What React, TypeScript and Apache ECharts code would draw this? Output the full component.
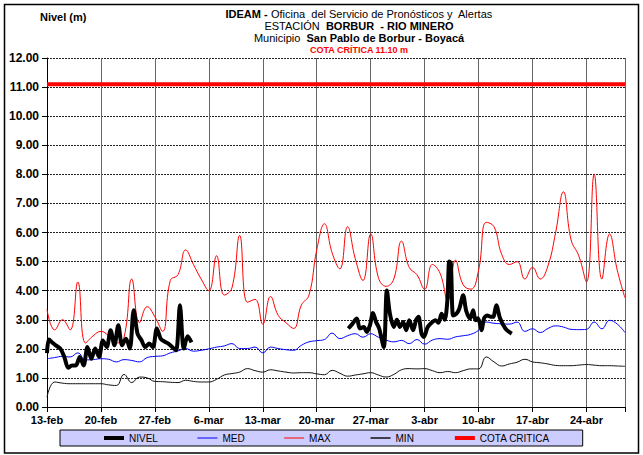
import React, { useEffect, useRef } from "react";
import * as echarts from "echarts";

const FONT = '"Liberation Sans", Arial, Helvetica, sans-serif';

// x axis: days since 13-feb (0 .. 75)
const LAST_DAY = 75;
const TICK_LABELS = ["13-feb", "20-feb", "27-feb", "6-mar", "13-mar", "20-mar", "27-mar", "3-abr", "10-abr", "17-abr", "24-abr"];
const COTA_CRITICA = 11.1;

// daily values, day 0 = 13-feb
const MAX_VALUES = [
  3.35, 2.65, 3.0, 2.65, 4.3, 2.2, 2.45, 2.6, 2.45, 2.2,
  2.4, 4.4, 2.9, 3.45, 3.1, 2.6, 4.35, 4.55, 5.4, 4.9,
  4.4, 4.0, 5.2, 3.85, 4.1, 5.9, 3.6, 3.7, 2.85, 3.8,
  3.15, 2.9, 2.7, 3.5, 3.85, 5.4, 6.3, 5.3, 4.75, 6.2,
  5.1, 4.35, 5.95, 4.45, 4.15, 4.4, 5.7, 4.8, 4.55, 4.05,
  4.9, 4.6, 3.65, 5.05, 4.2, 4.05, 4.7, 6.35, 6.2, 5.25,
  4.9, 5.0, 4.4, 4.8, 4.4, 4.85, 6.0, 7.4, 5.75, 5.2,
  4.3, 8.0, 4.4, 5.95, 4.7, 3.75,
];
const MED_VALUES = [
  1.66, 1.7, 1.74, 1.72, 1.86, 1.62, 1.63, 1.66, 1.64, 1.55,
  1.63, 1.6, 1.55, 1.7, 1.74, 1.76, 1.86, 1.93, 2.01, 1.92,
  1.95, 2.0, 2.06, 2.1, 2.18, 2.01, 2.01, 2.06, 1.86, 2.06,
  2.01, 1.97, 1.95, 2.12, 2.24, 2.28, 2.32, 2.54, 2.35, 2.45,
  2.52, 2.4, 2.52, 2.4, 2.3, 2.24, 2.29, 2.18, 2.32, 2.16,
  2.3, 2.35, 2.33, 2.41, 2.45, 2.5, 2.64, 2.92, 2.88, 2.86,
  2.85, 2.92, 2.6, 2.69, 2.56, 2.7, 2.79, 2.75, 2.67, 2.66,
  2.67, 2.92, 2.69, 2.98, 2.85, 2.56,
];
const MIN_VALUES = [
  0.34, 0.86, 0.82, 0.8, 0.8, 0.8, 0.8, 0.8, 0.76, 0.74,
  1.12, 0.84, 1.03, 1.0, 0.88, 0.87, 0.85, 0.84, 0.92, 0.88,
  0.86, 0.86, 0.95, 1.1, 1.15, 1.2, 1.32, 1.25, 1.2, 1.28,
  1.24, 1.2, 1.17, 1.18, 1.18, 1.14, 1.11, 1.26, 1.16, 1.06,
  1.1, 1.14, 1.18, 1.1, 1.03, 1.12, 1.28, 1.32, 1.31, 1.32,
  1.25, 1.18, 1.22, 1.18, 1.25, 1.31, 1.31, 1.72, 1.55, 1.41,
  1.48, 1.54, 1.64, 1.55, 1.52, 1.48, 1.43, 1.42, 1.42, 1.44,
  1.46, 1.44, 1.42, 1.42, 1.41, 1.4,
];

// NIVEL readings (two per day), two observed periods
const NIVEL_DAYS_1 = [
  0, 0.25, 0.75, 1.25, 1.75, 2.25, 2.75, 3.25, 3.75, 4.25, 4.75, 5.25, 5.75,
  6.25, 6.75, 7.25, 7.75, 8.25, 8.75, 9.25, 9.75, 10.25, 10.75, 11.25, 11.75,
  12.25, 12.75, 13.25, 13.75, 14.25, 14.75, 15.25, 15.75, 16.25, 16.75, 17.25,
  17.75, 18.25, 18.75,
];
const NIVEL_VALUES_1 = [
  1.85, 2.32, 2.2, 2.1, 2.0, 1.72, 1.35, 1.43, 1.43, 1.72, 1.43, 2.06, 1.66,
  2.01, 1.72, 2.29, 2.06, 2.64, 2.12, 2.81, 2.12, 2.35, 2.01, 3.33, 2.52,
  2.3, 2.06, 2.18, 2.06, 2.7, 2.35, 2.25, 2.18, 2.06, 1.95, 3.5,
  2.01, 2.43, 2.22,
];
const NIVEL_DAYS_2 = [
  39.1, 39.6, 40.2, 40.6, 41.1, 41.5, 41.9, 42.3, 42.7, 43.1, 43.7, 44.1, 44.5,
  45.0, 45.4, 45.8, 46.2, 46.6, 47.0, 47.5, 47.9, 48.2, 48.6, 48.9, 49.4, 49.9,
  50.4, 50.8, 51.2, 51.6, 51.95, 52.2, 52.4, 52.7, 53.1, 53.5, 54.0, 54.4, 54.9,
  55.3, 55.6, 55.9, 56.2, 56.4, 56.7, 57.1, 57.6, 57.9, 58.3, 58.8, 59.5, 60.3,
];
const NIVEL_VALUES_2 = [
  2.7, 2.85, 3.04, 2.7, 2.75, 2.58, 2.81, 3.23, 2.92, 2.7, 2.06, 4.01, 3.2,
  2.75, 3.0, 2.75, 2.92, 2.64, 2.98, 2.64, 3.0, 3.1, 2.52, 2.41, 2.75, 2.9,
  2.98, 2.9, 3.21, 3.0, 3.67, 5.0, 4.95, 3.15, 3.2, 3.38, 3.84, 3.3, 3.04,
  3.33, 2.98, 3.05, 2.85, 2.64, 3.04, 3.15, 3.1, 3.1, 3.5, 3.04, 2.69, 2.52,
];

const daily = (arr: number[]) => arr.map((v, i) => [i, v]);

function buildOption(): any {
  const nivelData: any[] = [
    ...NIVEL_DAYS_1.map((d, i) => [d, NIVEL_VALUES_1[i]]),
    [30, "-"],
    ...NIVEL_DAYS_2.map((d, i) => [d, NIVEL_VALUES_2[i]]),
  ];
  const lineSeries = (name: string, data: any[], color: string, width: number, smooth: number, z: number) => ({
    name,
    type: "line",
    data,
    symbol: "none",
    showSymbol: false,
    smooth,
    connectNulls: false,
    z,
    itemStyle: { color },
    lineStyle: { color, width },
    emphasis: { disabled: true },
  });
  const legendItem = (name: string, width: number) => ({
    name,
    lineStyle: { width },
    itemStyle: { opacity: 0, borderWidth: 0 },
  });
  return {
    animation: false,
    backgroundColor: "#ffffff",
    textStyle: { fontFamily: FONT },
    grid: { left: 47, right: 18, top: 58, bottom: 48, containLabel: false },
    xAxis: {
      type: "value",
      min: 0,
      max: LAST_DAY,
      interval: 7,
      axisLine: { show: true, lineStyle: { color: "#000", width: 1 } },
      axisTick: { show: true, length: 5, lineStyle: { color: "#000" } },
      axisLabel: {
        margin: 7,
        fontSize: 11,
        fontWeight: "bold",
        color: "#000",
        fontFamily: FONT,
        formatter: (v: number) => (v % 7 === 0 ? TICK_LABELS[v / 7] ?? "" : ""),
      },
      splitLine: { show: true, lineStyle: { color: "#666", width: 1, type: "solid" } },
    },
    yAxis: {
      type: "value",
      min: 0,
      max: 12,
      interval: 1,
      axisLine: { show: true, lineStyle: { color: "#000", width: 1 } },
      axisTick: { show: true, length: 5, lineStyle: { color: "#000" } },
      axisLabel: {
        margin: 8,
        fontSize: 12,
        fontWeight: "bold",
        color: "#000",
        fontFamily: FONT,
        formatter: (v: number) => v.toFixed(2),
      },
      splitLine: { show: true, lineStyle: { color: "#222", width: 1, type: [2, 1] } },
    },
    legend: {
      left: 60,
      top: 430,
      itemWidth: 20,
      itemHeight: 12,
      itemGap: 39,
      padding: [3, 33, 3, 42],
      backgroundColor: "#CCCCFF",
      borderColor: "#000",
      borderWidth: 1,
      borderRadius: 0,
      selectedMode: false,
      itemStyle: { opacity: 0, borderWidth: 0 },
      textStyle: { fontSize: 10, color: "#000", fontFamily: FONT },
      data: [
        legendItem("NIVEL", 4),
        legendItem("MED", 1),
        legendItem("MAX", 1),
        legendItem("MIN", 1.5),
        legendItem("COTA CRITICA", 4),
      ],
    },
    series: [
      lineSeries("COTA CRITICA", [[0, COTA_CRITICA], [LAST_DAY, COTA_CRITICA]], "#FF0000", 4, 0, 2),
      lineSeries("MAX", daily(MAX_VALUES), "#FF0000", 1, 0.45, 3),
      lineSeries("MED", daily(MED_VALUES), "#0000FF", 1, 0.45, 3),
      lineSeries("MIN", daily(MIN_VALUES), "#111111", 1, 0.45, 3),
      lineSeries("NIVEL", nivelData, "#000000", 4, 0.3, 5),
    ],
    graphic: [
      {
        type: "rect",
        shape: { x: 4.5, y: 4.5, width: 634, height: 448.5 },
        style: { fill: "none", stroke: "#000", lineWidth: 1.5 },
        silent: true,
        z: -10,
      },
      {
        type: "text",
        x: 40,
        y: 17,
        style: { text: "Nivel (m)", fontSize: 11, fontWeight: "bold", fontFamily: FONT, fill: "#000", verticalAlign: "middle" },
      },
      {
        type: "text",
        x: 359,
        y: 14,
        style: {
          text: "{b|IDEAM -} Oficina  del Servicio de Pronósticos y  Alertas",
          rich: { b: { fontSize: 11, fontWeight: "bold", fontFamily: FONT, fill: "#000" } },
          fontSize: 11,
          fontFamily: FONT,
          fill: "#000",
          align: "center",
          verticalAlign: "middle",
        },
      },
      {
        type: "text",
        x: 359,
        y: 26,
        style: {
          text: "ESTACIÓN  {b|BORBUR  - RIO MINERO}",
          rich: { b: { fontSize: 11, fontWeight: "bold", fontFamily: FONT, fill: "#000" } },
          fontSize: 11,
          fontFamily: FONT,
          fill: "#000",
          align: "center",
          verticalAlign: "middle",
        },
      },
      {
        type: "text",
        x: 359,
        y: 38,
        style: {
          text: "Municipio  {b|San Pablo de Borbur - Boyacá}",
          rich: { b: { fontSize: 11, fontWeight: "bold", fontFamily: FONT, fill: "#000" } },
          fontSize: 11,
          fontFamily: FONT,
          fill: "#000",
          align: "center",
          verticalAlign: "middle",
        },
      },
      {
        type: "text",
        x: 359,
        y: 50,
        style: {
          text: "COTA CRÍTICA 11.10 m",
          fontSize: 9,
          fontWeight: "bold",
          fontFamily: FONT,
          fill: "#FF0000",
          align: "center",
          verticalAlign: "middle",
        },
      },
    ],
  };
}

export default function App() {
  const ref = useRef<HTMLDivElement>(null);
  useEffect(() => {
    if (!ref.current) return;
    const chart = echarts.init(ref.current, null, { renderer: "svg" });
    chart.setOption(buildOption());
    return () => {
      chart.dispose();
    };
  }, []);
  return (
    <div
      ref={ref}
      style={{ position: "absolute", left: 0, top: 0, width: 643, height: 455, background: "#fff" }}
    />
  );
}
